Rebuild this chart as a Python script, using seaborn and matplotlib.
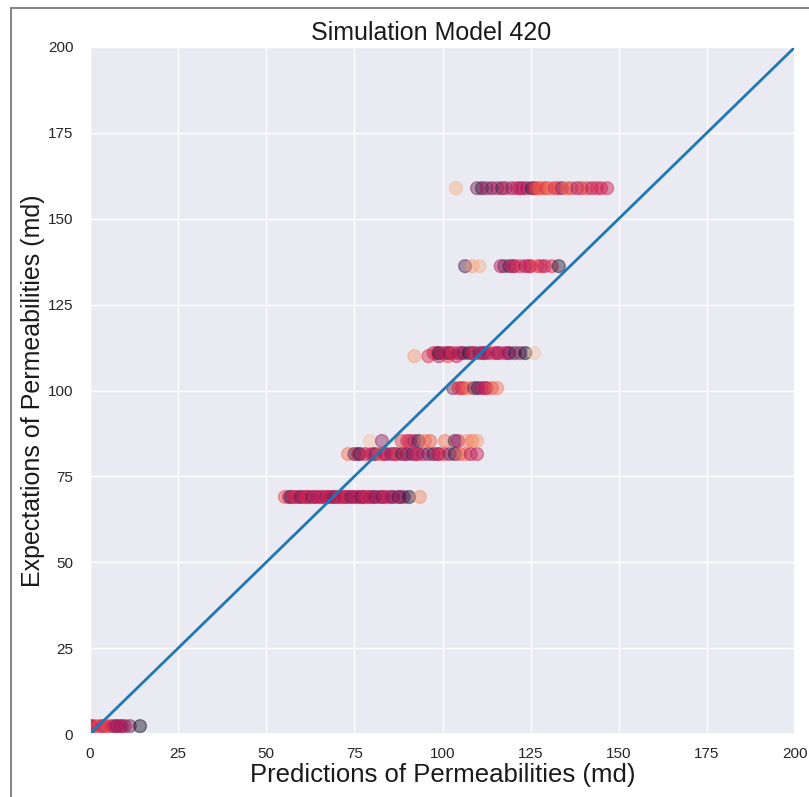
import numpy as np
import pandas as pd
import matplotlib
matplotlib.use("Agg")
import matplotlib.pyplot as plt
from matplotlib.patches import Rectangle
import seaborn as sns

# Expected permeability levels (md) and the predicted values at each level
levels = [2.3, 69.0, 81.5, 85.3, 100.7, 110.0, 110.9, 136.2, 158.9]

pred_2 = [0.0, 0.5, 1.5, 2.8, 3.6, 4.3, 5.5, 6.5, 7.2, 7.7, 8.5, 9.1, 9.9, 11.3, 14.2]
hue_2 = [0.25, 0.45, 0.55, 0.6, 0.5, 0.55, 0.6, 0.5, 0.4, 0.35, 0.45, 0.4, 0.45, 0.3, 0.05]

pred_69 = [55.3, 56.5, 57.0, 58.0, 58.5, 59.5, 60.0, 61.0, 61.5, 62.0, 63.0, 63.8,
           64.5, 65.5, 66.0, 67.0, 67.5, 68.0, 69.0, 69.5, 70.5, 71.0, 72.0,
           72.5, 73.0, 74.0, 74.5, 75.5, 76.0, 77.0, 77.5, 78.0, 79.0, 79.5,
           80.5, 81.0, 82.0, 83.0, 83.5, 84.5, 85.5, 86.0, 87.5, 88.0, 89.0,
           90.5, 93.6]
hue_69 = [0.6, 0.45, 0.2, 0.5, 0.55, 0.4, 0.3, 0.45, 0.55, 0.5, 0.25, 0.5,
          0.4, 0.45, 0.5, 0.35, 0.55, 0.45, 0.4, 0.3, 0.5, 0.5, 0.4,
          0.45, 0.55, 0.3, 0.35, 0.5, 0.45, 0.25, 0.4, 0.5, 0.55, 0.4,
          0.45, 0.3, 0.45, 0.2, 0.5, 0.5, 0.4, 0.35, 0.15, 0.45, 0.3,
          0.1, 0.75]

pred_81 = [73.2, 75.0, 76.0, 76.5, 78.0, 79.5, 80.2, 81.0, 82.5, 83.5, 84.0,
           85.5, 86.5, 87.0, 88.5, 89.5, 90.0, 91.5, 92.5, 93.0, 94.5, 96.0,
           97.5, 98.5, 99.0, 100.5, 102.0, 103.5, 105.0, 106.5, 108.0, 109.8]
hue_81 = [0.7, 0.25, 0.5, 0.15, 0.5, 0.55, 0.45, 0.3, 0.6, 0.5, 0.45,
          0.3, 0.45, 0.55, 0.2, 0.5, 0.35, 0.25, 0.45, 0.5, 0.4, 0.3,
          0.2, 0.5, 0.45, 0.55, 0.3, 0.15, 0.6, 0.7, 0.45, 0.5]

pred_85 = [79.4, 82.8, 88.4, 90.0, 90.8, 92.0, 93.2, 95.0, 96.5, 100.7, 103.5,
           104.4, 107.0, 108.4, 109.8]
hue_85 = [0.9, 0.35, 0.6, 0.5, 0.55, 0.4, 0.2, 0.7, 0.65, 0.7, 0.2,
          0.45, 0.75, 0.7, 0.8]

pred_100 = [103.0, 104.5, 105.5, 106.0, 107.5, 109.0, 110.0, 111.0, 112.0,
            112.5, 114.0, 115.5]
hue_100 = [0.3, 0.55, 0.5, 0.6, 0.7, 0.3, 0.15, 0.4, 0.45, 0.5, 0.6, 0.7]

pred_110 = [92.0, 96.0, 99.0, 101.5, 104.0]
hue_110 = [0.8, 0.55, 0.4, 0.6, 0.5]

pred_111 = [97.5, 98.5, 99.0, 100.5, 101.5, 102.0, 103.0, 104.5, 105.5, 106.0,
            107.5, 108.5, 109.0, 110.5, 111.5, 112.0, 113.0, 114.5, 115.5,
            116.0, 117.5, 118.5, 119.0, 120.5, 122.0, 123.5, 126.0]
hue_111 = [0.5, 0.55, 0.15, 0.45, 0.5, 0.3, 0.55, 0.4, 0.5, 0.3,
           0.1, 0.45, 0.5, 0.25, 0.4, 0.45, 0.35, 0.55, 0.45,
           0.4, 0.5, 0.45, 0.3, 0.2, 0.35, 0.05, 0.9]

pred_136 = [106.4, 108.5, 110.5, 116.5, 117.5, 119.0, 120.0, 120.5, 122.0,
            123.5, 124.5, 125.0, 127.0, 128.0, 129.0, 131.0, 133.0]
hue_136 = [0.2, 0.8, 0.85, 0.45, 0.3, 0.2, 0.5, 0.45, 0.55, 0.4, 0.5,
           0.5, 0.6, 0.55, 0.45, 0.55, 0.1]

pred_158 = [103.8, 109.8, 111.2, 112.5, 114.0, 115.5, 116.9, 118.0, 119.7,
            121.1, 122.0, 122.8, 124.0, 125.4, 126.0, 126.8, 127.5, 128.5,
            129.5, 130.5, 131.9, 132.8, 133.9, 135.3, 136.5, 138.2, 139.5,
            141.0, 142.4, 143.8, 145.0, 146.7]
hue_158 = [0.85, 0.3, 0.15, 0.4, 0.25, 0.45, 0.2, 0.5, 0.35, 0.5, 0.45,
           0.45, 0.4, 0.12, 0.5, 0.6, 0.65, 0.65, 0.55, 0.7, 0.55, 0.6,
           0.35, 0.65, 0.6, 0.4, 0.55, 0.6, 0.45, 0.55, 0.5, 0.5]

rows = [(levels[0], pred_2, hue_2), (levels[1], pred_69, hue_69),
        (levels[2], pred_81, hue_81), (levels[3], pred_85, hue_85),
        (levels[4], pred_100, hue_100), (levels[5], pred_110, hue_110),
        (levels[6], pred_111, hue_111), (levels[7], pred_136, hue_136),
        (levels[8], pred_158, hue_158)]

records = []
for level, preds, hues in rows:
    for p, h in zip(preds, hues):
        records.append({"pred": p, "expected": level, "sample": h})
df = pd.DataFrame(records)

ticks = [0, 25, 50, 75, 100, 125, 150, 175, 200]

sns.set_theme(style="darkgrid")
plt.rcParams["font.family"] = ["Liberation Sans", "DejaVu Sans"]

fig = plt.figure(figsize=(8.09, 7.97), dpi=100)
ax = fig.add_axes([90 / 809, 1 - 734 / 797, 705 / 809, 687 / 797])

sns.scatterplot(data=df, x="pred", y="expected", hue="sample", palette="rocket",
                hue_norm=(0, 1), alpha=0.45, s=85, edgecolor="face",
                linewidth=1.0, legend=False, ax=ax)
sns.lineplot(x=[0, 200], y=[0, 200], color="#1f77b4", linewidth=2, ax=ax)

ax.set_xlim(0, 200)
ax.set_ylim(0, 200)
ax.set_xticks(ticks)
ax.set_yticks(ticks)
ax.tick_params(axis="x", labelsize=11, pad=3)
ax.tick_params(axis="y", labelsize=11, pad=6)
ax.set_title("Simulation Model 420", fontsize=18, color="#1a1a1a", pad=5,
             x=(431 - 90) / 705)
ax.set_xlabel("Predictions of Permeabilities (md)", fontsize=18.5, color="#1a1a1a", labelpad=2)
ax.set_ylabel("Expectations of Permeabilities (md)", fontsize=18, color="#1a1a1a", labelpad=2)

# thin grey frame around the figure
fig.patches.append(Rectangle((10.5 / 809, -0.05), 1.2, 1 - 7.5 / 797 + 0.05,
                             transform=fig.transFigure, fill=False,
                             edgecolor="#7a7a7a", linewidth=1.3, zorder=10))

fig.savefig("out.png", dpi=100)
